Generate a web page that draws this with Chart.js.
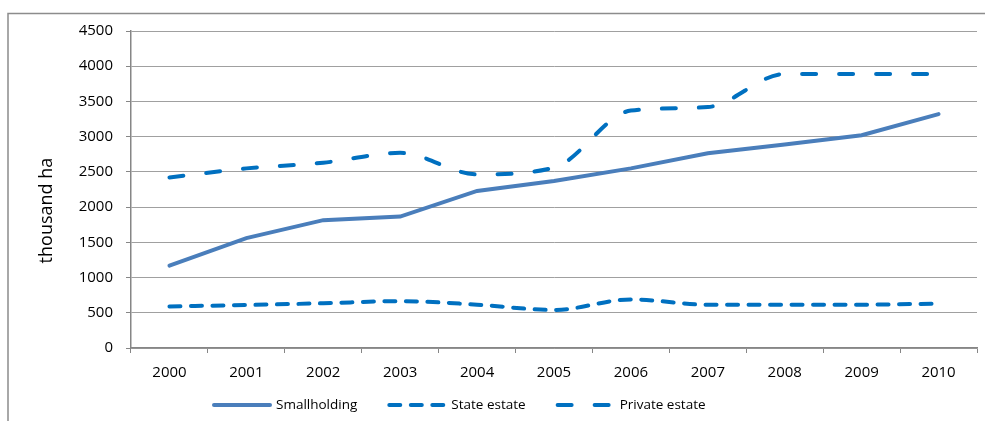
<!DOCTYPE html>
<html lang="en">

<head>
    <meta charset="UTF-8">
    <title>Oil palm area</title>
    <style>
        html, body { margin: 0; padding: 0; background: #fff; }
        #wrap { width: 985px; height: 421px; }
    </style>
</head>

<body>
    <div id="wrap">
        <canvas id="areaChart" width="985" height="421"></canvas>
    </div>

    <script src="https://cdn.jsdelivr.net/npm/chart.js"></script>
    <script>
        // values (thousand ha)
        const years = ['2000', '2001', '2002', '2003', '2004', '2005', '2006', '2007', '2008', '2009', '2010'];
        const smallholding = [1170, 1560, 1815, 1865, 2230, 2370, 2550, 2765, 2890, 3020, 3320];
        const stateEstate = [590, 610, 635, 665, 615, 540, 690, 615, 615, 615, 630];
        const privateEstate = [2420, 2550, 2630, 2770, 2465, 2560, 3370, 3420, 3890, 3890, 3890];

        const yTicks = { min: 0, max: 4500, step: 500 };

        const tickFont = { family: 'Open Sans', size: 15 };

        // thin grey frame along the top and left edge, as in the source picture
        const framePlugin = {
            id: 'frame',
            beforeDraw(chart) {
                const ctx = chart.ctx;
                ctx.save();
                ctx.strokeStyle = '#8c8c8c';
                ctx.lineWidth = 1.5;
                ctx.beginPath();
                ctx.moveTo(8, chart.height);
                ctx.lineTo(8, 13.5);
                ctx.lineTo(chart.width, 13.5);
                ctx.stroke();
                ctx.restore();
            }
        };

        // legend row under the axis: line sample with the dataset's own dash, then the label
        const lineLegend = {
            id: 'lineLegend',
            afterDraw(chart) {
                const ctx = chart.ctx;
                let x = 212;
                const y = 405;
                ctx.save();
                ctx.font = '13.5px "Open Sans"';
                ctx.textBaseline = 'middle';
                ctx.fillStyle = '#000';
                chart.data.datasets.forEach(ds => {
                    ctx.save();
                    ctx.strokeStyle = ds.borderColor;
                    ctx.lineWidth = ds.borderWidth;
                    ctx.lineCap = 'round';
                    ctx.setLineDash(ds.borderDash || []);
                    ctx.beginPath();
                    ctx.moveTo(x + 2, y);
                    ctx.lineTo(x + 58, y);
                    ctx.stroke();
                    ctx.restore();
                    ctx.fillText(ds.label, x + 64, y);
                    x += 64 + ctx.measureText(ds.label).width + 30;
                });
                ctx.restore();
            }
        };

        const data = {
            labels: years,
            datasets: [{
                label: 'Smallholding',
                data: smallholding,
                borderColor: '#4a7ebb',
                backgroundColor: '#4a7ebb',
                borderWidth: 4,
                borderCapStyle: 'round',
                pointRadius: 0,
                tension: 0
            }, {
                label: 'State estate',
                data: stateEstate,
                borderColor: '#0070c0',
                backgroundColor: '#0070c0',
                borderWidth: 4,
                borderDash: [11, 10.5],
                borderCapStyle: 'round',
                pointRadius: 0,
                cubicInterpolationMode: 'monotone'
            }, {
                label: 'Private estate',
                data: privateEstate,
                borderColor: '#0070c0',
                backgroundColor: '#0070c0',
                borderWidth: 4,
                borderDash: [14, 23],
                borderCapStyle: 'round',
                pointRadius: 0,
                cubicInterpolationMode: 'monotone'
            }]
        };

        const config = {
            type: 'line',
            data: data,
            plugins: [framePlugin, lineLegend],
            options: {
                responsive: false,
                animation: false,
                layout: { padding: { top: 31, right: 8, left: 0, bottom: 38 } },
                plugins: {
                    tooltip: { enabled: false },
                    legend: { display: false }
                },
                scales: {
                    x: {
                        offset: true,
                        grid: { offset: true, drawOnChartArea: false, tickLength: 5, color: '#868686' },
                        border: { color: '#868686', width: 1.5 },
                        ticks: { color: '#000', font: tickFont, padding: 11, maxRotation: 0 },
                        afterFit(scale) { scale.height = 35; }
                    },
                    y: {
                        min: yTicks.min,
                        max: yTicks.max,
                        grid: { color: '#a0a0a0', tickLength: 5, tickColor: '#868686' },
                        border: { color: '#868686', width: 1.5 },
                        ticks: {
                            stepSize: yTicks.step, color: '#000', font: tickFont, padding: 13,
                            callback: v => String(v)
                        },
                        title: {
                            display: true,
                            text: 'thousand ha' + '\u00a0'.repeat(9),
                            color: '#000',
                            font: { family: 'Open Sans', size: 18 },
                            padding: { top: 36, bottom: 0 }
                        },
                        afterFit(scale) { scale.width = 131; }
                    }
                }
            }
        };

        const areaChart = new Chart(document.getElementById('areaChart'), config);
    </script>
</body>

</html>
